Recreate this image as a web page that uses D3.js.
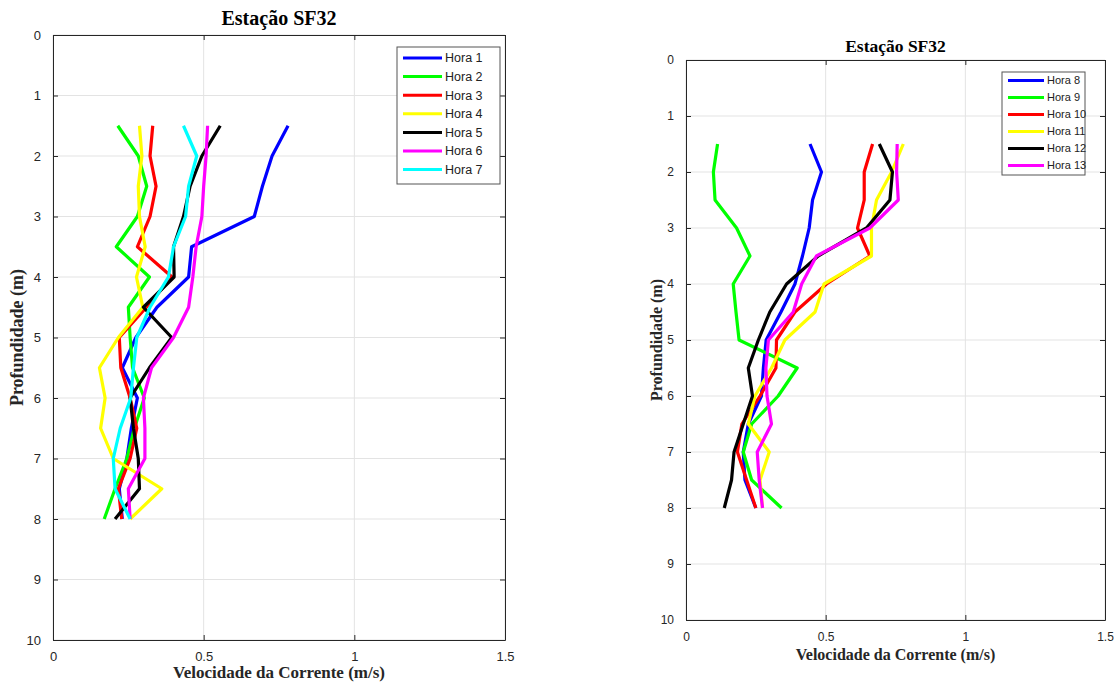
<!DOCTYPE html>
<html>
<head>
<meta charset="utf-8">
<script src="https://cdn.jsdelivr.net/npm/d3@7"></script>
<style>
  body { margin: 0; background: #fff; }
  svg { display: block; }
</style>
</head>
<body>
<div id="chart"></div>
<script>
// profundidades medidas (m)
const depths = [1.5, 2, 2.5, 3, 3.5, 4, 4.5, 5, 5.5, 6, 6.5, 7, 7.5, 8]

// painel esquerdo: horas 1 a 7
const hora1 = [0.78, 0.727, 0.695, 0.668, 0.46, 0.45, 0.345, 0.275, 0.23, 0.28, 0.26, 0.245, 0.22, 0.23]
const hora2 = [0.215, 0.283, 0.311, 0.28, 0.21, 0.32, 0.25, 0.256, 0.264, 0.303, 0.27, 0.245, 0.206, 0.17]
const hora3 = [0.331, 0.322, 0.342, 0.322, 0.28, 0.395, 0.31, 0.22, 0.225, 0.256, 0.278, 0.256, 0.217, 0.228]
const hora4 = [0.287, 0.295, 0.283, 0.287, 0.306, 0.277, 0.298, 0.217, 0.154, 0.173, 0.158, 0.2, 0.361, 0.256]
const hora5 = [0.555, 0.494, 0.455, 0.433, 0.4, 0.402, 0.3, 0.394, 0.32, 0.256, 0.267, 0.283, 0.287, 0.206]
const hora6 = [0.513, 0.508, 0.5, 0.494, 0.475, 0.464, 0.45, 0.4, 0.327, 0.3, 0.305, 0.305, 0.25, 0.256]
const hora7 = [0.433, 0.477, 0.45, 0.44, 0.4, 0.383, 0.322, 0.278, 0.267, 0.258, 0.223, 0.2, 0.206, 0.256]

// painel direito: horas 8 a 13
const hora8 = [0.444, 0.485, 0.453, 0.441, 0.417, 0.39, 0.34, 0.287, 0.277, 0.27, 0.223, 0.205, 0.211, 0.25]
const hora9 = [0.113, 0.098, 0.104, 0.181, 0.229, 0.169, 0.179, 0.19, 0.398, 0.33, 0.235, 0.205, 0.235, 0.342]
const hora10 = [0.668, 0.638, 0.638, 0.614, 0.658, 0.503, 0.39, 0.324, 0.322, 0.265, 0.2, 0.184, 0.217, 0.25]
const hora11 = [0.778, 0.736, 0.682, 0.664, 0.664, 0.494, 0.462, 0.354, 0.306, 0.247, 0.223, 0.298, 0.265, 0.274]
const hora12 = [0.692, 0.739, 0.73, 0.646, 0.473, 0.36, 0.3, 0.259, 0.223, 0.238, 0.205, 0.172, 0.163, 0.137]
const hora13 = [0.756, 0.754, 0.76, 0.658, 0.467, 0.414, 0.384, 0.295, 0.286, 0.29, 0.306, 0.255, 0.262, 0.274]

const xTicks = [0, 0.5, 1, 1.5]
const yTicks = [0, 1, 2, 3, 4, 5, 6, 7, 8, 9, 10]
const titulo = "Estação SF32"
const xTitulo = "Velocidade da Corrente (m/s)"
const yTitulo = "Profundidade (m)"

const leftSeries = [
    { name: "Hora 1", values: hora1, color: "#0000ff" },
    { name: "Hora 2", values: hora2, color: "#00ff00" },
    { name: "Hora 3", values: hora3, color: "#ff0000" },
    { name: "Hora 4", values: hora4, color: "#ffff00" },
    { name: "Hora 5", values: hora5, color: "#000000" },
    { name: "Hora 6", values: hora6, color: "#ff00ff" },
    { name: "Hora 7", values: hora7, color: "#00ffff" }
]
const rightSeries = [
    { name: "Hora 8", values: hora8, color: "#0000ff" },
    { name: "Hora 9", values: hora9, color: "#00ff00" },
    { name: "Hora 10", values: hora10, color: "#ff0000" },
    { name: "Hora 11", values: hora11, color: "#ffff00" },
    { name: "Hora 12", values: hora12, color: "#000000" },
    { name: "Hora 13", values: hora13, color: "#ff00ff" }
]

const svg = d3.select("#chart")
    .append("svg")
    .attr("width", 1115)
    .attr("height", 684)

const axisColor = "#262626"
const serif = "'Liberation Serif', 'Times New Roman', serif"

function drawPanel(opt) {
    const x = d3.scaleLinear().domain([0, 1.5]).range([opt.left, opt.right])
    const y = d3.scaleLinear().domain([0, 10]).range([opt.top, opt.bottom])
    const g = svg.append("g")

    // grade
    g.selectAll(".gx").data(xTicks).enter().append("line")
        .attr("x1", d => x(d)).attr("x2", d => x(d))
        .attr("y1", opt.top).attr("y2", opt.bottom)
        .attr("stroke", "#e3e3e3").attr("stroke-width", 1)
    g.selectAll(".gy").data(yTicks).enter().append("line")
        .attr("x1", opt.left).attr("x2", opt.right)
        .attr("y1", d => y(d)).attr("y2", d => y(d))
        .attr("stroke", "#e3e3e3").attr("stroke-width", 1)

    // curvas
    const line = d3.line()
        .x(d => x(d.v))
        .y(d => y(d.d))
    opt.series.forEach(s => {
        const pts = depths.map((d, i) => ({ d: d, v: s.values[i] }))
        g.append("path")
            .datum(pts)
            .attr("fill", "none")
            .attr("stroke", s.color)
            .attr("stroke-width", 3.2)
            .attr("stroke-linejoin", "round")
            .attr("d", line)
    })

    // eixos (ticks para dentro, caixa)
    const tickLen = 5
    const axB = g.append("g").attr("transform", `translate(0,${opt.bottom})`)
        .call(d3.axisBottom(x).tickValues(xTicks).tickFormat(d3.format("")).tickSizeInner(-tickLen).tickSizeOuter(0).tickPadding(12))
    const axT = g.append("g").attr("transform", `translate(0,${opt.top})`)
        .call(d3.axisTop(x).tickValues(xTicks).tickFormat("").tickSizeInner(-tickLen).tickSizeOuter(0))
    const axL = g.append("g").attr("transform", `translate(${opt.left},0)`)
        .call(d3.axisLeft(y).tickValues(yTicks).tickFormat(d3.format("")).tickSizeInner(-tickLen).tickSizeOuter(0).tickPadding(12))
    const axR = g.append("g").attr("transform", `translate(${opt.right},0)`)
        .call(d3.axisRight(y).tickValues(yTicks).tickFormat("").tickSizeInner(-tickLen).tickSizeOuter(0))
    ;[axB, axT, axL, axR].forEach(a => {
        a.select(".domain").attr("stroke", axisColor).attr("stroke-width", 1)
        a.selectAll(".tick line").attr("stroke", axisColor)
        a.selectAll("text")
            .attr("fill", axisColor)
            .style("font-family", "'Liberation Sans', Arial, sans-serif")
            .style("font-size", opt.tickFont + "px")
    })

    // títulos
    g.append("text")
        .attr("x", (opt.left + opt.right) / 2)
        .attr("y", opt.titleY)
        .attr("text-anchor", "middle")
        .style("font-family", serif)
        .style("font-weight", "bold")
        .style("font-size", opt.titleFont + "px")
        .text(titulo)
    g.append("text")
        .attr("x", (opt.left + opt.right) / 2)
        .attr("y", opt.xLabelY)
        .attr("text-anchor", "middle")
        .attr("fill", axisColor)
        .style("font-family", serif)
        .style("font-weight", "bold")
        .style("font-size", opt.xLabelFont + "px")
        .text(xTitulo)
    g.append("text")
        .attr("transform", `translate(${opt.yLabelX},${(opt.top + opt.bottom) / 2}) rotate(-90)`)
        .attr("text-anchor", "middle")
        .attr("fill", axisColor)
        .style("font-family", serif)
        .style("font-weight", "bold")
        .style("font-size", opt.yLabelFont + "px")
        .text(yTitulo)

    // legenda
    const lg = opt.legend
    const leg = g.append("g")
    leg.append("rect")
        .attr("x", lg.x).attr("y", lg.y)
        .attr("width", lg.w).attr("height", lg.h)
        .attr("fill", "#fff").attr("stroke", "#555").attr("stroke-width", 1)
    opt.series.forEach((s, i) => {
        const cy = lg.y + lg.first + i * lg.step
        leg.append("line")
            .attr("x1", lg.x + 6).attr("x2", lg.x + 6 + lg.lineLen)
            .attr("y1", cy).attr("y2", cy)
            .attr("stroke", s.color).attr("stroke-width", 3)
        leg.append("text")
            .attr("x", lg.x + 9 + lg.lineLen)
            .attr("y", cy)
            .attr("dy", "0.35em")
            .attr("fill", "#222")
            .style("font-family", "'Liberation Sans', Arial, sans-serif")
            .style("font-size", lg.font + "px")
            .text(s.name)
    })
}

drawPanel({
    series: leftSeries,
    left: 53, right: 505, top: 35, bottom: 640,
    titleY: 25, xLabelY: 678, yLabelX: 23,
    titleFont: 20, xLabelFont: 17, yLabelFont: 18, tickFont: 13,
    legend: { x: 397, y: 47, w: 103, h: 137, first: 11, step: 18.6, lineLen: 39, font: 12.5 }
})

drawPanel({
    series: rightSeries,
    left: 686, right: 1105, top: 60, bottom: 620,
    titleY: 52, xLabelY: 660, yLabelX: 662,
    titleFont: 17.5, xLabelFont: 16, yLabelFont: 16, tickFont: 12,
    legend: { x: 1002, y: 72, w: 83, h: 103, first: 8.5, step: 17, lineLen: 36, font: 11 }
})
</script>
</body>
</html>
